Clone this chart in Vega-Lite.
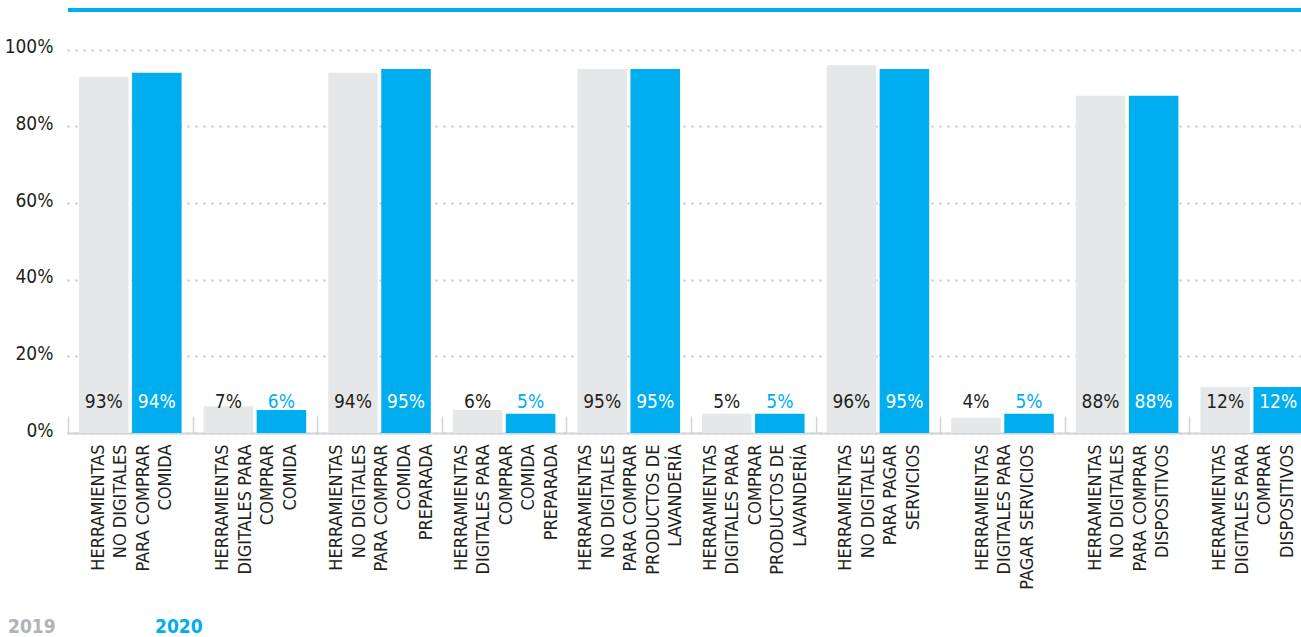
{
  "$schema": "https://vega.github.io/schema/vega-lite/v6.json",
  "autosize": "none",
  "width": 1246,
  "height": 423,
  "padding": {"left": 68, "top": 10, "right": 0, "bottom": 204},
  "background": "white",
  "config": {"view": {"stroke": null}, "font": "DejaVu Sans Condensed, Roboto"},
  "data": {
    "values": [
      {"cat": "HERRAMIENTAS|NO DIGITALES|PARA COMPRAR|COMIDA", "year": "2019", "value": 93},
      {"cat": "HERRAMIENTAS|NO DIGITALES|PARA COMPRAR|COMIDA", "year": "2020", "value": 94},
      {"cat": "HERRAMIENTAS|DIGITALES PARA|COMPRAR|COMIDA", "year": "2019", "value": 7},
      {"cat": "HERRAMIENTAS|DIGITALES PARA|COMPRAR|COMIDA", "year": "2020", "value": 6},
      {"cat": "HERRAMIENTAS|NO DIGITALES|PARA COMPRAR|COMIDA|PREPARADA", "year": "2019", "value": 94},
      {"cat": "HERRAMIENTAS|NO DIGITALES|PARA COMPRAR|COMIDA|PREPARADA", "year": "2020", "value": 95},
      {"cat": "HERRAMIENTAS|DIGITALES PARA|COMPRAR|COMIDA|PREPARADA", "year": "2019", "value": 6},
      {"cat": "HERRAMIENTAS|DIGITALES PARA|COMPRAR|COMIDA|PREPARADA", "year": "2020", "value": 5},
      {"cat": "HERRAMIENTAS|NO DIGITALES|PARA COMPRAR|PRODUCTOS DE|LAVANDERÍA", "year": "2019", "value": 95},
      {"cat": "HERRAMIENTAS|NO DIGITALES|PARA COMPRAR|PRODUCTOS DE|LAVANDERÍA", "year": "2020", "value": 95},
      {"cat": "HERRAMIENTAS|DIGITALES PARA|COMPRAR|PRODUCTOS DE|LAVANDERÍA", "year": "2019", "value": 5},
      {"cat": "HERRAMIENTAS|DIGITALES PARA|COMPRAR|PRODUCTOS DE|LAVANDERÍA", "year": "2020", "value": 5},
      {"cat": "HERRAMIENTAS|NO DIGITALES|PARA PAGAR|SERVICIOS", "year": "2019", "value": 96},
      {"cat": "HERRAMIENTAS|NO DIGITALES|PARA PAGAR|SERVICIOS", "year": "2020", "value": 95},
      {"cat": "HERRAMIENTAS|DIGITALES PARA|PAGAR SERVICIOS", "year": "2019", "value": 4},
      {"cat": "HERRAMIENTAS|DIGITALES PARA|PAGAR SERVICIOS", "year": "2020", "value": 5},
      {"cat": "HERRAMIENTAS|NO DIGITALES|PARA COMPRAR|DISPOSITIVOS", "year": "2019", "value": 88},
      {"cat": "HERRAMIENTAS|NO DIGITALES|PARA COMPRAR|DISPOSITIVOS", "year": "2020", "value": 88},
      {"cat": "HERRAMIENTAS|DIGITALES PARA|COMPRAR|DISPOSITIVOS", "year": "2019", "value": 12},
      {"cat": "HERRAMIENTAS|DIGITALES PARA|COMPRAR|DISPOSITIVOS", "year": "2020", "value": 12}
    ]
  },
  "layer": [
    {
      "mark": {"type": "bar"},
      "encoding": {
        "x": {
          "field": "cat",
          "type": "nominal",
          "sort": null,
          "scale": {"paddingInner": 0, "paddingOuter": 0},
          "axis": {
            "title": null,
            "labelAngle": -90,
            "labelAlign": "right",
            "labelBaseline": "middle",
            "labelExpr": "split(datum.label, '|')",
            "labelFontSize": 18,
            "labelLineHeight": 22.5,
            "labelColor": "#231F20",
            "labelPadding": 28,
            "labelLimit": 400,
            "labelOverlap": false,
            "labelOffset": {
              "condition": [
                {"test": "length(split(datum.label, '|')) == 3", "value": -20.5},
                {"test": "length(split(datum.label, '|')) == 5", "value": -43}
              ],
              "value": -32
            },
            "domainColor": "#D1D3D4",
            "domainWidth": 2,
            "tickBand": "extent",
            "tickSize": -17,
            "tickColor": "#D1D3D4",
            "tickWidth": 1.5,
            "grid": false
          }
        },
        "xOffset": {"field": "year", "type": "nominal", "scale": {"paddingInner": 0.066, "paddingOuter": 0.2075}},
        "y": {
          "field": "value",
          "type": "quantitative",
          "scale": {"domain": [0, 110.4], "nice": false},
          "axis": {
            "title": null,
            "values": [0, 20, 40, 60, 80, 100],
            "labelExpr": "datum.value + '%'",
            "domain": false,
            "ticks": false,
            "grid": true,
            "gridDash": [0.1, 7.9],
            "gridColor": "#CDCFD1",
            "gridWidth": 2.5,
            "gridCap": "round",
            "labelFontSize": 19,
            "labelColor": "#231F20",
            "labelPadding": 15,
            "labelOffset": -3
          }
        },
        "color": {
          "field": "year",
          "type": "nominal",
          "scale": {"domain": ["2019", "2020"], "range": ["#E6E7E8", "#00AEEF"]},
          "legend": {
            "title": null,
            "orient": "none",
            "direction": "horizontal",
            "legendX": -79,
            "legendY": 607,
            "symbolSize": 0,
            "symbolOpacity": 0,
            "labelOffset": 0,
            "columnPadding": 80,
            "labelFontSize": 19,
            "labelFontWeight": "bold",
            "encode": {
              "labels": {
                "update": {
                  "fill": {"signal": "datum.value === '2019' ? '#B1B3B6' : '#00AEEF'"}
                }
              }
            }
          }
        }
      }
    },
    {
      "transform": [{"calculate": "datum.value + '%'", "as": "label"}],
      "mark": {"type": "text", "fontSize": 19, "baseline": "middle", "align": "center"},
      "encoding": {
        "x": {"field": "cat", "type": "nominal", "sort": null},
        "xOffset": {"field": "year", "type": "nominal"},
        "y": {"datum": 8},
        "text": {"field": "label", "type": "nominal"},
        "color": {
          "condition": [
            {"test": "datum.year === '2020' && datum.value > 10", "value": "#FFFFFF"},
            {"test": "datum.year === '2020'", "value": "#00AEEF"}
          ],
          "value": "#231F20"
        }
      }
    },
    {
      "mark": {"type": "rule", "color": "#00AEEF", "strokeWidth": 3},
      "encoding": {"y": {"datum": 110.4}}
    }
  ]
}
